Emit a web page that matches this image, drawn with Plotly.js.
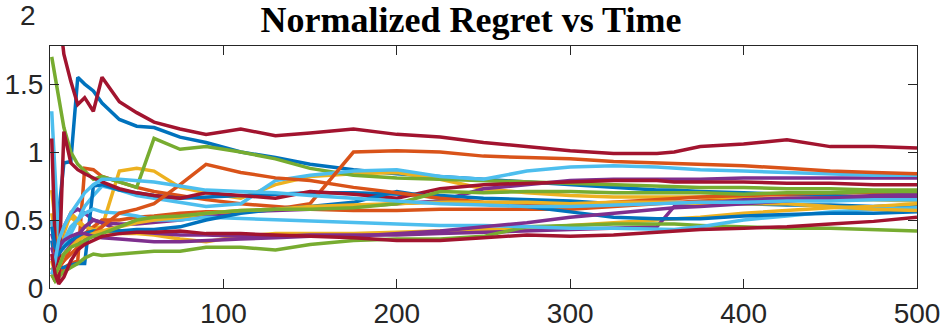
<!DOCTYPE html>
<html>
<head>
<meta charset="utf-8">
<script src="https://cdn.plot.ly/plotly-3.0.1.min.js"></script>
<style>
  html, body { margin: 0; padding: 0; background: #fff; }
  #regretPlot { width: 942px; height: 329px; }
</style>
</head>
<body>
<div id="regretPlot"></div>
<script>
const times = [1, 3, 5, 8, 12, 16, 20, 25, 30, 40, 50, 60, 75, 90, 110, 130, 150, 175, 200, 225, 250, 275, 300, 325, 350, 360, 375, 400, 425, 450, 475, 500];

// normalized regret, one array per run
const blue1 = [0.35, 0.2, 0.55, 0.92, 0.93, 1.55, 1.50, 1.45, 1.36, 1.24, 1.19, 1.18, 1.11, 1.07, 1.00, 0.96, 0.91, 0.87, 0.84, 0.82, 0.80, 0.78, 0.76, 0.74, 0.72, 0.72, 0.71, 0.70, 0.69, 0.68, 0.67, 0.66];
const orange1 = [0.1, 0.05, 0.1, 0.15, 0.18, 0.2, 0.88, 0.87, 0.82, 0.78, 0.74, 0.71, 0.68, 0.65, 0.62, 0.60, 0.58, 0.57, 0.57, 0.58, 0.58, 0.58, 0.58, 0.60, 0.62, 0.63, 0.64, 0.65, 0.66, 0.66, 0.66, 0.66];
const yellow1 = [0.72, 0.5, 0.25, 0.4, 0.55, 0.50, 0.45, 0.44, 0.45, 0.86, 0.88, 0.86, 0.74, 0.70, 0.66, 0.76, 0.82, 0.84, 0.85, 0.80, 0.73, 0.70, 0.68, 0.67, 0.67, 0.67, 0.67, 0.66, 0.66, 0.65, 0.65, 0.64];
const purple1 = [0.3, 0.2, 0.3, 0.45, 0.55, 0.58, 0.55, 0.50, 0.48, 0.47, 0.47, 0.48, 0.50, 0.53, 0.56, 0.57, 0.58, 0.60, 0.62, 0.64, 0.73, 0.76, 0.79, 0.80, 0.80, 0.80, 0.80, 0.81, 0.81, 0.81, 0.81, 0.81];
const green1 = [1.70, 1.55, 1.38, 1.18, 1.00, 0.91, 0.86, 0.80, 0.82, 0.78, 0.74, 1.10, 1.02, 1.04, 1.00, 0.95, 0.88, 0.83, 0.81, 0.80, 0.79, 0.78, 0.77, 0.76, 0.75, 0.75, 0.74, 0.74, 0.73, 0.73, 0.72, 0.72];
const lightblue1 = [1.30, 0.80, 0.35, 0.30, 0.40, 0.50, 0.60, 0.68, 0.75, 0.72, 0.68, 0.66, 0.63, 0.60, 0.62, 0.79, 0.83, 0.86, 0.87, 0.82, 0.80, 0.86, 0.89, 0.90, 0.89, 0.88, 0.87, 0.86, 0.85, 0.84, 0.83, 0.83];
const red1 = [2.4, 2.3, 2.05, 1.72, 1.52, 1.35, 1.40, 1.30, 1.55, 1.37, 1.29, 1.22, 1.17, 1.13, 1.17, 1.12, 1.14, 1.17, 1.13, 1.11, 1.07, 1.04, 1.01, 0.99, 0.99, 1.00, 1.04, 1.06, 1.09, 1.04, 1.04, 1.03];

const blue2 = [0.5, 0.3, 0.15, 0.15, 0.17, 0.18, 0.18, 0.75, 0.76, 0.72, 0.70, 0.68, 0.66, 0.67, 0.68, 0.69, 0.70, 0.70, 0.69, 0.68, 0.66, 0.65, 0.64, 0.62, 0.63, 0.63, 0.62, 0.62, 0.61, 0.61, 0.60, 0.61];
const orange2 = [0.5, 0.25, 0.15, 0.2, 0.3, 0.35, 0.4, 0.45, 0.5, 0.5, 0.52, 0.53, 0.55, 0.56, 0.56, 0.58, 0.62, 1.00, 1.01, 1.00, 0.97, 0.96, 0.95, 0.93, 0.92, 0.92, 0.91, 0.90, 0.88, 0.86, 0.85, 0.84];
const yellow2 = [0.55, 0.4, 0.3, 0.45, 0.52, 0.48, 0.45, 0.43, 0.42, 0.40, 0.40, 0.39, 0.36, 0.34, 0.38, 0.40, 0.40, 0.40, 0.41, 0.42, 0.43, 0.44, 0.46, 0.48, 0.50, 0.51, 0.52, 0.55, 0.57, 0.59, 0.60, 0.62];
const purple2 = [0.4, 0.3, 0.2, 0.25, 0.32, 0.38, 0.45, 0.50, 0.48, 0.42, 0.41, 0.40, 0.39, 0.39, 0.38, 0.38, 0.39, 0.39, 0.39, 0.40, 0.41, 0.42, 0.43, 0.44, 0.45, 0.60, 0.62, 0.65, 0.66, 0.66, 0.67, 0.67];
const green2 = [0.1, 0.05, 0.08, 0.12, 0.15, 0.18, 0.22, 0.25, 0.24, 0.25, 0.26, 0.27, 0.27, 0.30, 0.30, 0.28, 0.32, 0.35, 0.36, 0.36, 0.38, 0.45, 0.46, 0.47, 0.47, 0.47, 0.46, 0.45, 0.44, 0.44, 0.43, 0.42];
const lightblue2 = [0.5, 0.3, 0.25, 0.35, 0.45, 0.50, 0.55, 0.58, 0.56, 0.55, 0.53, 0.50, 0.50, 0.52, 0.51, 0.50, 0.49, 0.48, 0.47, 0.46, 0.46, 0.45, 0.44, 0.44, 0.43, 0.43, 0.45, 0.50, 0.53, 0.56, 0.58, 0.59];
const red2 = [1.1, 0.3, 0.05, 1.15, 0.92, 0.87, 0.84, 0.81, 0.78, 0.73, 0.70, 0.68, 0.66, 0.70, 0.68, 0.66, 0.71, 0.69, 0.66, 0.73, 0.76, 0.77, 0.78, 0.79, 0.79, 0.78, 0.78, 0.78, 0.77, 0.77, 0.76, 0.76];

const blue3 = [0.45, 0.3, 0.25, 0.3, 0.35, 0.38, 0.40, 0.42, 0.42, 0.42, 0.43, 0.43, 0.45, 0.50, 0.55, 0.58, 0.60, 0.63, 0.71, 0.66, 0.62, 0.60, 0.56, 0.52, 0.51, 0.51, 0.51, 0.53, 0.54, 0.55, 0.55, 0.56];
const orange3 = [0.15, 0.1, 0.15, 0.2, 0.25, 0.3, 0.35, 0.4, 0.45, 0.55, 0.58, 0.62, 0.76, 0.91, 0.85, 0.81, 0.79, 0.74, 0.70, 0.66, 0.63, 0.62, 0.61, 0.63, 0.65, 0.66, 0.67, 0.68, 0.69, 0.70, 0.70, 0.70];
const yellow3 = [0.2, 0.1, 0.15, 0.25, 0.3, 0.35, 0.38, 0.40, 0.42, 0.45, 0.48, 0.50, 0.52, 0.55, 0.57, 0.58, 0.60, 0.61, 0.62, 0.63, 0.63, 0.63, 0.62, 0.63, 0.63, 0.63, 0.62, 0.62, 0.62, 0.60, 0.58, 0.57];
const purple3 = [0.2, 0.25, 0.3, 0.35, 0.38, 0.40, 0.40, 0.38, 0.37, 0.36, 0.35, 0.34, 0.34, 0.35, 0.36, 0.37, 0.38, 0.38, 0.40, 0.42, 0.45, 0.48, 0.52, 0.55, 0.58, 0.59, 0.60, 0.62, 0.64, 0.66, 0.68, 0.69];
const green3 = [0.15, 0.1, 0.15, 0.25, 0.3, 0.32, 0.35, 0.38, 0.40, 0.45, 0.50, 0.52, 0.53, 0.55, 0.57, 0.58, 0.58, 0.59, 0.62, 0.71, 0.70, 0.71, 0.71, 0.70, 0.70, 0.70, 0.70, 0.69, 0.70, 0.70, 0.71, 0.71];
const lightblue3 = [0.1, 0.2, 0.35, 0.45, 0.55, 0.62, 0.70, 0.76, 0.80, 0.80, 0.79, 0.78, 0.75, 0.72, 0.71, 0.70, 0.68, 0.66, 0.64, 0.62, 0.61, 0.60, 0.60, 0.61, 0.62, 0.62, 0.63, 0.63, 0.64, 0.64, 0.65, 0.65];
const red3 = [0.25, 0.10, 0.03, 0.08, 0.2, 0.28, 0.32, 0.35, 0.38, 0.40, 0.41, 0.41, 0.42, 0.40, 0.40, 0.39, 0.38, 0.37, 0.35, 0.35, 0.37, 0.39, 0.38, 0.39, 0.41, 0.42, 0.43, 0.44, 0.45, 0.47, 0.49, 0.52];

const xTicks = [0, 100, 200, 300, 400, 500];
const yTicks = [0, 0.5, 1, 1.5];
const yTickText = ["0", "0.5", "1", "1.5"];

// matlab default colour order
const colorOrder = ["#0072BD", "#D95319", "#EDB120", "#7E2F8E", "#77AC30", "#4DBEEE", "#A2142F"];

const runs = [
  blue1, orange1, yellow1, purple1, green1, lightblue1, red1,
  blue2, orange2, yellow2, purple2, green2, lightblue2, red2,
  blue3, orange3, yellow3, purple3, green3, lightblue3, red3
];

var data = runs.map(function (vals, i) {
  return {
    x: times,
    y: vals,
    mode: "lines",
    line: { color: colorOrder[i % 7], width: 3.5 },
    hoverinfo: "skip",
    showlegend: false
  };
});

var tickFont = { family: "Liberation Sans, Arial, sans-serif", size: 28, color: "#262626" };

const layout = {
  width: 942,
  height: 329,
  margin: { l: 50, r: 25, t: 46, b: 41 },
  paper_bgcolor: "#fff",
  plot_bgcolor: "#fff",
  title: {
    text: "<b>Normalized Regret vs Time</b>",
    font: { family: "Liberation Serif, Times New Roman, serif", size: 36, color: "#000" },
    x: 0.5,
    xanchor: "center",
    y: 0.94,
    yanchor: "middle"
  },
  xaxis: {
    range: [0, 500],
    tickvals: xTicks,
    ticks: "inside",
    ticklen: 9,
    tickcolor: "#262626",
    showline: true,
    linecolor: "#262626",
    linewidth: 1,
    mirror: "ticks",
    showgrid: false,
    zeroline: false,
    tickfont: tickFont
  },
  yaxis: {
    range: [0, 1.78],
    tickvals: yTicks,
    ticktext: yTickText,
    ticks: "inside",
    ticklen: 9,
    tickcolor: "#262626",
    showline: true,
    linecolor: "#262626",
    linewidth: 1,
    mirror: "ticks",
    showgrid: false,
    zeroline: false,
    tickfont: tickFont
  },
  // the "2" label that sits above the cropped box
  annotations: [{
    text: "2",
    xref: "paper", yref: "paper",
    x: 0, y: 1.128,
    xanchor: "right", yanchor: "middle",
    xshift: -12,
    showarrow: false,
    font: tickFont
  }]
};

Plotly.newPlot("regretPlot", data, layout, { staticPlot: true });
</script>
</body>
</html>
